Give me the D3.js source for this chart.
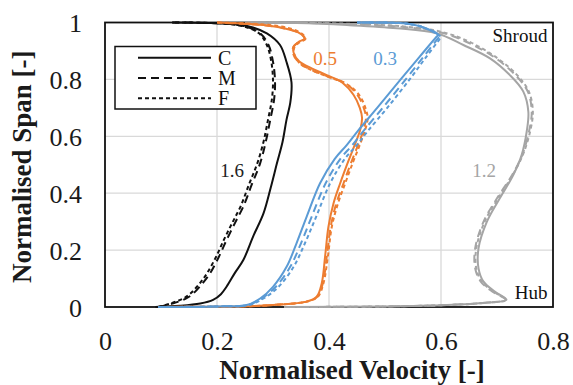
<!DOCTYPE html>
<html><head><meta charset="utf-8">
<script src="https://cdn.jsdelivr.net/npm/d3@7"></script>
<style>body{margin:0;background:#fff}svg{display:block}text{font-family:"Liberation Serif","Times New Roman",serif}</style>
</head><body><svg id="c" width="573" height="385"></svg>
<script>
// ---- data ----
const xTicks = [0, 0.2, 0.4, 0.6, 0.8];
const yTicks = [0, 0.2, 0.4, 0.6, 0.8, 1];
const xTickLabels = ["0", "0.2", "0.4", "0.6", "0.8"];
const yTickLabels = ["0", "0.2", "0.4", "0.6", "0.8", "1"];
const meshes = ["C", "M", "F"];
const groupLabels = ["1.6", "0.5", "0.3", "1.2"];

const black_C = [[0.09,0],[0.134,0.004],[0.17,0.012],[0.193,0.025],[0.207,0.045],[0.217,0.071],[0.232,0.12],[0.247,0.165],[0.265,0.25],[0.283,0.329],[0.296,0.42],[0.307,0.505],[0.317,0.58],[0.324,0.657],[0.331,0.72],[0.333,0.79],[0.324,0.862],[0.3125,0.921],[0.289,0.962],[0.259,0.985],[0.229,0.994],[0.19,0.998],[0.12,1]];
const black_M = [[0.095,0],[0.122,0.013],[0.145,0.03],[0.158,0.048],[0.175,0.085],[0.1875,0.118],[0.203,0.175],[0.217,0.235],[0.232,0.295],[0.247,0.353],[0.262,0.43],[0.277,0.505],[0.287,0.58],[0.295,0.657],[0.302,0.73],[0.3036,0.795],[0.30,0.862],[0.292,0.921],[0.277,0.962],[0.253,0.985],[0.223,0.995],[0.18,0.999],[0.12,1]];
const black_F = [[0.095,0],[0.118,0.013],[0.14,0.03],[0.153,0.048],[0.17,0.085],[0.182,0.118],[0.198,0.175],[0.212,0.235],[0.227,0.295],[0.242,0.353],[0.257,0.43],[0.272,0.505],[0.283,0.58],[0.291,0.657],[0.298,0.73],[0.300,0.795],[0.297,0.862],[0.289,0.921],[0.275,0.962],[0.25,0.985],[0.22,0.995],[0.18,0.999],[0.12,1]];

const orange_C = [[0.095,0],[0.17,0.001],[0.241,0.002],[0.30,0.007],[0.36,0.019],[0.378,0.036],[0.387,0.083],[0.393,0.177],[0.399,0.282],[0.408,0.364],[0.42,0.435],[0.434,0.51],[0.447,0.575],[0.456,0.625],[0.459,0.665],[0.455,0.70],[0.444,0.745],[0.424,0.788],[0.396,0.815],[0.37,0.838],[0.347,0.863],[0.337,0.893],[0.337,0.915],[0.346,0.932],[0.357,0.944],[0.348,0.962],[0.318,0.98],[0.283,0.991],[0.24,0.997],[0.2,1]];
const orange_M = [[0.095,0],[0.17,0.001],[0.241,0.002],[0.30,0.007],[0.36,0.019],[0.379,0.036],[0.389,0.083],[0.396,0.177],[0.403,0.282],[0.413,0.364],[0.426,0.435],[0.44,0.51],[0.453,0.575],[0.462,0.625],[0.466,0.665],[0.462,0.70],[0.451,0.745],[0.43,0.785],[0.398,0.81],[0.37,0.832],[0.347,0.858],[0.336,0.89],[0.336,0.913],[0.345,0.93],[0.356,0.942],[0.35,0.96],[0.32,0.98],[0.285,0.99],[0.24,0.996],[0.2,1]];
const orange_F = [[0.095,0],[0.17,0.001],[0.241,0.002],[0.30,0.007],[0.36,0.019],[0.38,0.036],[0.39,0.083],[0.398,0.177],[0.405,0.282],[0.416,0.364],[0.429,0.435],[0.443,0.51],[0.456,0.575],[0.465,0.625],[0.469,0.665],[0.465,0.70],[0.454,0.745],[0.432,0.783],[0.4,0.808],[0.372,0.83],[0.348,0.856],[0.338,0.888],[0.338,0.912],[0.347,0.93],[0.358,0.942],[0.352,0.96],[0.325,0.982],[0.29,0.992],[0.25,0.997],[0.2,1]];

const blue_C = [[0.095,0],[0.2,0.002],[0.253,0.007],[0.277,0.03],[0.30,0.071],[0.3245,0.142],[0.342,0.224],[0.36,0.317],[0.384,0.435],[0.41,0.52],[0.432,0.57],[0.452,0.62],[0.486,0.7],[0.528,0.8],[0.562,0.88],[0.592,0.95],[0.595,0.956],[0.565,0.985],[0.533,0.997],[0.45,1]];
const blue_M = [[0.095,0],[0.2,0.002],[0.255,0.007],[0.28,0.03],[0.305,0.071],[0.331,0.142],[0.35,0.224],[0.369,0.317],[0.394,0.435],[0.42,0.52],[0.442,0.57],[0.462,0.62],[0.496,0.7],[0.537,0.8],[0.569,0.88],[0.595,0.945],[0.598,0.952],[0.565,0.985],[0.533,0.997],[0.45,1]];
const blue_F = [[0.095,0],[0.2,0.002],[0.257,0.007],[0.283,0.03],[0.31,0.071],[0.337,0.142],[0.357,0.224],[0.377,0.317],[0.402,0.435],[0.428,0.52],[0.45,0.57],[0.47,0.62],[0.504,0.7],[0.544,0.8],[0.574,0.88],[0.597,0.94],[0.60,0.948],[0.567,0.984],[0.535,0.997],[0.45,1]];

const gray_C = [[0.32,0],[0.5,0.002],[0.61,0.007],[0.68,0.015],[0.717,0.025],[0.696,0.054],[0.676,0.089],[0.667,0.136],[0.667,0.206],[0.682,0.30],[0.705,0.382],[0.729,0.464],[0.744,0.534],[0.753,0.616],[0.756,0.686],[0.747,0.757],[0.723,0.815],[0.6875,0.874],[0.64,0.921],[0.592,0.962],[0.521,0.98],[0.432,0.991],[0.342,0.998],[0.25,1]];
const gray_M = [[0.32,0],[0.5,0.002],[0.61,0.007],[0.68,0.015],[0.715,0.025],[0.692,0.054],[0.671,0.089],[0.661,0.136],[0.661,0.206],[0.676,0.30],[0.70,0.382],[0.727,0.464],[0.745,0.534],[0.757,0.616],[0.762,0.686],[0.755,0.757],[0.733,0.815],[0.698,0.874],[0.65,0.928],[0.6,0.965],[0.53,0.985],[0.44,0.994],[0.34,0.999],[0.25,1]];
const gray_F = [[0.32,0],[0.5,0.002],[0.61,0.007],[0.68,0.015],[0.716,0.025],[0.694,0.054],[0.673,0.089],[0.663,0.136],[0.663,0.206],[0.678,0.30],[0.702,0.382],[0.728,0.464],[0.746,0.534],[0.759,0.616],[0.764,0.686],[0.757,0.757],[0.736,0.815],[0.701,0.874],[0.653,0.93],[0.603,0.966],[0.533,0.986],[0.443,0.995],[0.34,0.999],[0.25,1]];

// ---- layout ----
const svg = d3.select("#c");
const W = 573, H = 385;
const m = {l:105, r:20, t:22.5, b:78};
const x = d3.scaleLinear().domain([0,0.8]).range([m.l, W-m.r]);
const y = d3.scaleLinear().domain([0,1]).range([H-m.b, m.t]);

// gridlines
svg.append("g").selectAll("line").data(xTicks.slice(1,-1)).join("line")
  .attr("x1",d=>x(d)).attr("x2",d=>x(d)).attr("y1",y(0)).attr("y2",y(1))
  .attr("stroke","#d9d9d9").attr("stroke-width",1.3);
svg.append("g").selectAll("line").data(yTicks.slice(1,-1)).join("line")
  .attr("x1",x(0)).attr("x2",x(0.8)).attr("y1",d=>y(d)).attr("y2",d=>y(d))
  .attr("stroke","#d9d9d9").attr("stroke-width",1.3);

// border
svg.append("rect").attr("x",x(0)).attr("y",y(1)).attr("width",x(0.8)-x(0)).attr("height",y(0)-y(1))
  .attr("fill","none").attr("stroke","#111").attr("stroke-width",1.8);

// axes (tick labels only)
const xAxis = d3.axisBottom(x).tickValues(xTicks).tickFormat((d,i)=>xTickLabels[i]).tickSize(0).tickPadding(0);
const gx = svg.append("g").attr("transform",`translate(0,${y(0)})`).call(xAxis);
gx.select(".domain").remove();
gx.selectAll("text").attr("font-size",26).attr("fill","#1a1a1a").attr("dy","1.66em");
const yAxis = d3.axisLeft(y).tickValues(yTicks).tickFormat((d,i)=>yTickLabels[i]).tickSize(0).tickPadding(23);
const gy = svg.append("g").attr("transform",`translate(${x(0)},0)`).call(yAxis);
gy.select(".domain").remove();
gy.selectAll("text").attr("font-size",26).attr("fill","#1a1a1a").attr("dy","0.35em");

// curves
const line = d3.line().x(d=>x(d[0])).y(d=>y(d[1])).curve(d3.curveCatmullRom.alpha(0.5));
const dashes = {C:null, M:"8,5", F:"4,3"};
const groups = [
  {color:"#111111", C:black_C, M:black_M, F:black_F},
  {color:"#a5a5a5", C:gray_C, M:gray_M, F:gray_F},
  {color:"#ed7d31", C:orange_C, M:orange_M, F:orange_F},
  {color:"#5b9bd5", C:blue_C, M:blue_M, F:blue_F}
];
groups.forEach(g=>{
  meshes.forEach(k=>{
    svg.append("path").datum(g[k]).attr("d",line).attr("fill","none")
      .attr("stroke",g.color).attr("stroke-width",2).attr("stroke-dasharray",dashes[k]);
  });
});

// group labels
const labelPos = [[0.227,0.48,"#222"],[0.393,0.875,"#ed7d31"],[0.5,0.875,"#5b9bd5"],[0.677,0.48,"#a5a5a5"]];
groupLabels.forEach((t,i)=>{
  svg.append("text").attr("x",x(labelPos[i][0])).attr("y",y(labelPos[i][1])).attr("text-anchor","middle")
    .attr("dy","0.35em").attr("font-size",19).attr("fill",labelPos[i][2]).text(t);
});
svg.append("text").attr("x",x(0.79)).attr("y",y(0.955)).attr("text-anchor","end").attr("dy","0.35em")
  .attr("font-size",19).attr("fill","#111").text("Shroud");
svg.append("text").attr("x",x(0.79)).attr("y",y(0.05)).attr("text-anchor","end").attr("dy","0.35em")
  .attr("font-size",19).attr("fill","#111").text("Hub");

// legend
const lg = svg.append("g");
lg.append("rect").attr("x",115).attr("y",46.5).attr("width",141).attr("height",62.5)
  .attr("fill","#fff").attr("stroke","#111").attr("stroke-width",1.5);
meshes.forEach((k,i)=>{
  const yy = 57.7 + i*20.3;
  lg.append("line").attr("x1",138).attr("x2",211).attr("y1",yy).attr("y2",yy)
    .attr("stroke","#111").attr("stroke-width",2).attr("stroke-dasharray",dashes[k]);
  lg.append("text").attr("x",218).attr("y",yy).attr("dy","0.35em").attr("font-size",20).attr("fill","#111").text(k);
});

// axis titles
svg.append("text").attr("x",352).attr("y",379).attr("text-anchor","middle")
  .attr("font-size",27).attr("font-weight","bold").attr("fill","#1a1a1a").text("Normalised Velocity [-]");
svg.append("text").attr("transform",`translate(31,${(y(0)+y(1))/2 + 2}) rotate(-90)`).attr("text-anchor","middle")
  .attr("font-size",27).attr("font-weight","bold").attr("fill","#1a1a1a").text("Normalised Span [-]");
</script></body></html>
